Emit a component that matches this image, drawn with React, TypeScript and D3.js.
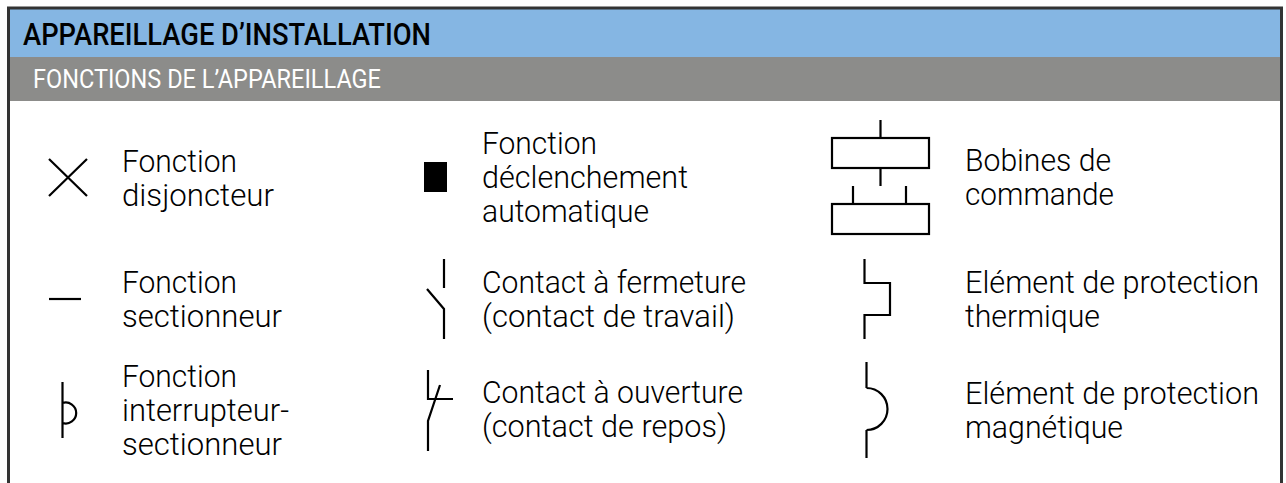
import React from "react";
import * as d3 from "d3";

const title = "APPAREILLAGE D’INSTALLATION";
const subtitle = "FONCTIONS DE L’APPAREILLAGE";

// labels, one list per column, each entry split in lines
const column1 = [
  ["Fonction", "disjoncteur"],
  ["Fonction", "sectionneur"],
  ["Fonction", "interrupteur-", "sectionneur"],
];
const column2 = [
  ["Fonction", "déclenchement", "automatique"],
  ["Contact à fermeture", "(contact de travail)"],
  ["Contact à ouverture", "(contact de repos)"],
];
const column3 = [
  ["Bobines de", "commande"],
  ["Elément de protection", "thermique"],
  ["Elément de protection", "magnétique"],
];

const width = 1286;
const height = 483;
const fontFamily = "Roboto, sans-serif";
const labelSize = 31;
const strokeW = 2.2;

// where each label block starts, and how wide each line was in the picture
const columnX = [122, 482, 965];
const firstBaselines = [
  [172, 293, 387],
  [154, 293, 403],
  [171, 293, 404],
];
const lineStep = 34;
const lineWidths: Record<string, number> = {
  Fonction: 115,
  disjoncteur: 152,
  sectionneur: 160,
  "interrupteur-": 167,
  "déclenchement": 206,
  automatique: 167,
  "Contact à fermeture": 264,
  "(contact de travail)": 253,
  "Contact à ouverture": 261,
  "(contact de repos)": 245,
  "Bobines de": 146,
  commande: 149,
  "Elément de protection": 294,
  thermique: 135,
  "magnétique": 158,
};

const line = d3.line();

// symbols, as svg path strings
const symbols: string[] = [
  line([[49, 159], [87, 196]])! + line([[87, 159], [49, 196]])!,
  line([[49, 299], [81, 299]])!,
  line([[62.5, 382], [62.5, 438]])! + "M62.5 403A10.5 10.5 0 1 1 62.5 423",
  line([[444, 259], [444, 288]])! + line([[427, 289], [444, 309], [444, 339]])!,
  line([[428, 370], [428, 399], [453, 399]])! + line([[440, 385], [428, 421], [428, 451]])!,
  line([[880.5, 120], [880.5, 138]])! + line([[880.5, 168], [880.5, 186]])! +
    line([[853, 186], [853, 204]])! + line([[906, 186], [906, 204]])!,
  line([[864.5, 259], [864.5, 283], [890, 283], [890, 315], [864.5, 315], [864.5, 339]])!,
  line([[866.5, 362], [866.5, 388]])! + "M866.5 388A21 21 0 0 1 866.5 430" + line([[866.5, 430], [866.5, 458]])!,
];

export default function App() {
  const columns = [column1, column2, column3];
  return (
    <svg
      width={width}
      height={height}
      style={{ position: "fixed", left: 0, top: 0, background: "#fff" }}
    >
      <rect x={10} y={9} width={1270} height={48} fill="#85b6e3" />
      <rect x={10} y={57} width={1270} height={44} fill="#8c8c8a" />
      <path d="M8.5 483V8H1281.5V483" fill="none" stroke="#333" strokeWidth={3} />

      <text x={23} y={45} fontFamily={fontFamily} fontSize={32} fontWeight={500} fill="#000" textLength={408} lengthAdjust="spacingAndGlyphs">
        {title}
      </text>
      <text x={33} y={88} fontFamily={fontFamily} fontSize={26} fontWeight={400} fill="#fff" textLength={348} lengthAdjust="spacingAndGlyphs">
        {subtitle}
      </text>

      {symbols.map((d, i) => (
        <path key={i} d={d} fill="none" stroke="#000" strokeWidth={strokeW} />
      ))}
      <rect x={424} y={162} width={23} height={30} fill="#000" />
      <rect x={832} y={138} width={97} height={30} fill="none" stroke="#000" strokeWidth={strokeW} />
      <rect x={832} y={204} width={97} height={30} fill="none" stroke="#000" strokeWidth={strokeW} />

      {columns.map((col, c) =>
        col.map((lines, r) =>
          lines.map((t, l) => (
            <text
              key={`${c}-${r}-${l}`}
              x={columnX[c]}
              y={firstBaselines[c][r] + l * lineStep}
              fontFamily={fontFamily}
              fontSize={labelSize}
              fontWeight={300}
              fill="#000"
              textLength={lineWidths[t]}
              lengthAdjust="spacingAndGlyphs"
            >
              {t}
            </text>
          ))
        )
      )}
    </svg>
  );
}
